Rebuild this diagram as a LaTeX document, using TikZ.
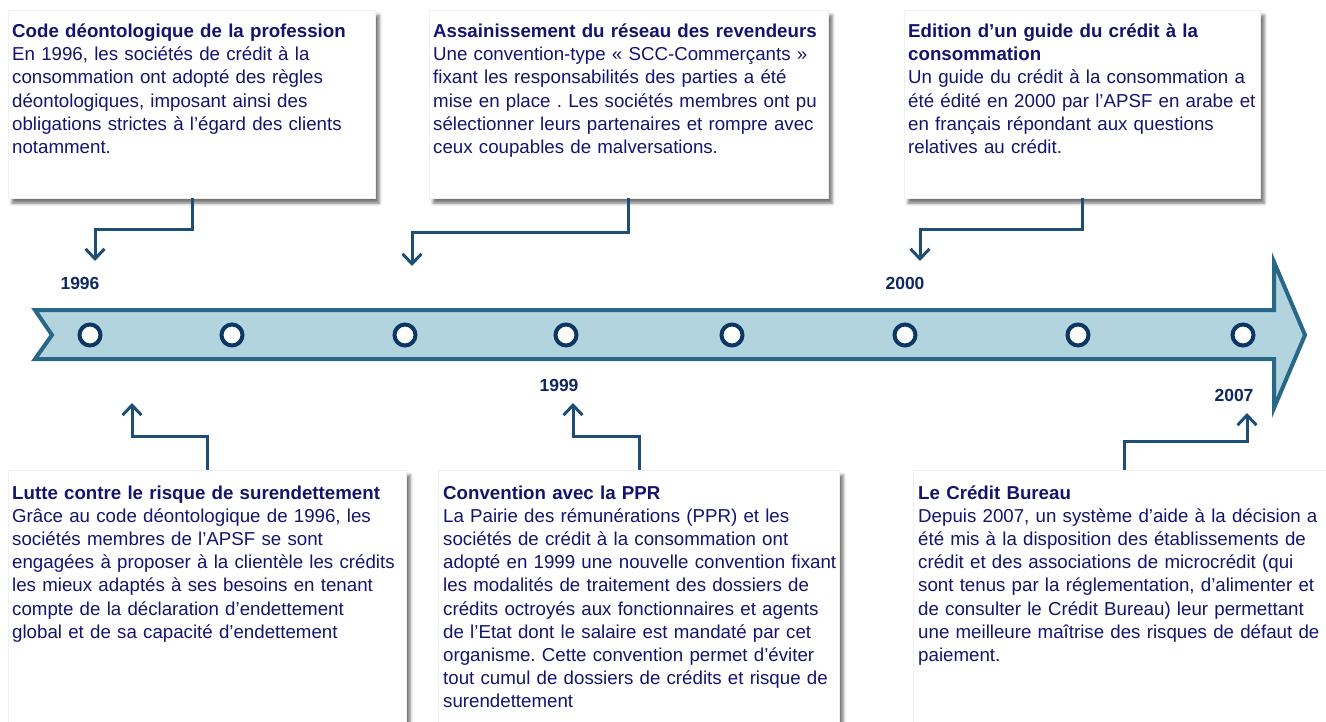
\documentclass[tikz,border=0pt]{standalone}
\usepackage{fontspec}
\setmainfont{Liberation Sans}
\usepackage{xcolor}
\usepackage{tikz}
\usetikzlibrary{arrows.meta,positioning,calc,shadows.blur}
\definecolor{encre}{RGB}{20,20,110}
\definecolor{anneebleu}{RGB}{15,40,100}
\definecolor{lienbleu}{RGB}{28,78,118}
\definecolor{bandefond}{RGB}{178,212,223}
\definecolor{bandetrait}{RGB}{40,104,134}
\definecolor{jalonbleu}{RGB}{12,55,100}
\newcommand{\corps}{\fontsize{18.7}{23.2}\selectfont}
\newcommand{\annees}{\fontsize{17.5}{20}\selectfont\bfseries}
\frenchspacing
\tikzset{
    boite/.style={
        rectangle,
        draw=gray!12,
        fill=white,
        anchor=north west,
        inner sep=0pt,
        blur shadow={shadow xshift=4pt, shadow yshift=-5pt, shadow blur radius=3pt, shadow opacity=55}
    },
    texte/.style={
        anchor=base west,
        inner sep=0pt,
        text width=440pt,
        align=left,
        font=\corps,
        text=encre
    },
    annee/.style={font=\annees, text=anneebleu, inner sep=0pt},
    jalon/.style={
        circle,
        draw=jalonbleu,
        line width=4pt,
        fill=white,
        minimum size=21pt,
        inner sep=0pt
    },
    bande/.style={fill=bandefond, draw=bandetrait, line width=4pt, line join=miter},
    fleche/.style={-{Straight Barb[length=10pt,width=19pt]}, line width=3pt, draw=lienbleu}
}

\begin{document}
\begin{tikzpicture}[x=1pt, y=-1pt]
    \useasboundingbox (0,0) rectangle (1326,722);
    \clip (0,0) rectangle (1326,722);

    \draw[bande] (35,310) -- (1274,310) -- (1274,262) -- (1305,335) -- (1274,408)
        -- (1274,359) -- (35,359) -- (52,335) -- cycle;
    \foreach \x [count=\i] in {90,232,405,566,732,905,1078,1243}
        \node[jalon] (jalon\i) at (\x,335) {};

    \node[annee] (an1996) at (80,283) {1996};
    \node[annee] (an1999) at (559,385) {1999};
    \node[annee] (an2000) at (905,283) {2000};
    \node[annee] (an2007) at (1234,395) {2007};

    \node[boite, minimum width=367pt, minimum height=188pt] (boite1) at (8,10) {};
    \node[boite, minimum width=399pt, minimum height=188pt] (boite2) at (429,10) {};
    \node[boite, minimum width=356pt, minimum height=188pt] (boite3) at (904,10) {};
    \node[boite, minimum width=398pt, minimum height=290pt] (boite4) at (8,470) {};
    \node[boite, minimum width=401pt, minimum height=290pt] (boite5) at (438,470) {};
    \node[boite, minimum width=440pt, minimum height=290pt] (boite6) at (913,470) {};

    \node[texte] (texte1) at ($(boite1.north west)+(4,27.5)$) {\textbf{Code déontologique de la profession}\\
        En 1996, les sociétés de crédit à la\\
        consommation ont adopté des règles\\
        déontologiques, imposant ainsi des\\
        obligations strictes à l’égard des clients\\
        notamment.};
    \node[texte] (texte2) at ($(boite2.north west)+(4,27.5)$) {\textbf{Assainissement du réseau des revendeurs}\\
        Une convention-type « SCC-Commerçants »\\
        fixant les responsabilités des parties a été\\
        mise en place . Les sociétés membres ont pu\\
        sélectionner leurs partenaires et rompre avec\\
        ceux coupables de malversations.};
    \node[texte] (texte3) at ($(boite3.north west)+(4,27.5)$) {\textbf{Edition d’un guide du crédit à la}\\
        \textbf{consommation}\\
        Un guide du crédit à la consommation a\\
        été édité en 2000 par l’APSF en arabe et\\
        en français répondant aux questions\\
        relatives au crédit.};
    \node[texte] (texte4) at ($(boite4.north west)+(4,29)$) {\textbf{Lutte contre le risque de surendettement}\\
        Grâce au code déontologique de 1996, les\\
        sociétés membres de l’APSF se sont\\
        engagées à proposer à la clientèle les crédits\\
        les mieux adaptés à ses besoins en tenant\\
        compte de la déclaration d’endettement\\
        global et de sa capacité d’endettement};
    \node[texte] (texte5) at ($(boite5.north west)+(5,29)$) {\textbf{Convention avec la PPR}\\
        La Pairie des rémunérations (PPR) et les\\
        sociétés de crédit à la consommation ont\\
        adopté en 1999 une nouvelle convention fixant\\
        les modalités de traitement des dossiers de\\
        crédits octroyés aux fonctionnaires et agents\\
        de l’Etat dont le salaire est mandaté par cet\\
        organisme. Cette convention permet d’éviter\\
        tout cumul de dossiers de crédits et risque de\\
        surendettement};
    \node[texte] (texte6) at ($(boite6.north west)+(5,29)$) {\textbf{Le Crédit Bureau}\\
        Depuis 2007, un système d’aide à la décision a\\
        été mis à la disposition des établissements de\\
        crédit et des associations de microcrédit (qui\\
        sont tenus par la réglementation, d'alimenter et\\
        de consulter le Crédit Bureau) leur permettant\\
        une meilleure maîtrise des risques de défaut de\\
        paiement.};

    \coordinate (d1) at ($(boite1.south west)+(184,0)$);
    \coordinate (d2) at ($(boite2.south west)+(199,0)$);
    \coordinate (d3) at ($(boite3.south west)+(178,0)$);
    \coordinate (d4) at ($(boite4.north west)+(199,0)$);
    \coordinate (d5) at ($(boite5.north west)+(201,0)$);
    \coordinate (d6) at ($(boite6.north west)+(211,0)$);
    \coordinate (c1) at (95,261);
    \coordinate (c2) at (412,266);
    \coordinate (c3) at (920,261);
    \coordinate (c4) at (132,403);
    \coordinate (c5) at (573,403);
    \coordinate (c6) at (1247,413);

    \foreach \i in {1,...,6}
        \draw[fleche] (d\i) |- ($(d\i)!.5!(c\i)$) -| (c\i);
\end{tikzpicture}
\end{document}
